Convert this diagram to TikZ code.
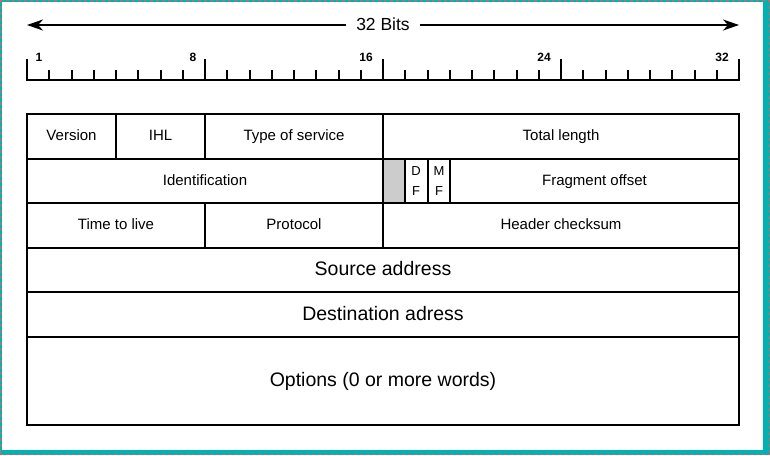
\documentclass[tikz,border=0pt]{standalone}
\usepackage{fontspec}
\setmainfont{Liberation Sans}
\usetikzlibrary{arrows.meta}
\definecolor{teal1}{RGB}{0,178,178}
\definecolor{redd}{RGB}{240,90,90}
\tikzset{
  rule/.style={line width=2pt, line cap=rect},
  tab/.style={line width=2pt, line join=miter},
  small/.style={font=\fontsize{15}{17}\selectfont, inner sep=0pt, anchor=base},
  big/.style={font=\fontsize{19.5}{22}\selectfont, inner sep=0pt, anchor=base},
  num/.style={font=\bfseries\fontsize{12}{13}\selectfont, inner sep=0pt, anchor=base},
  flag/.style={font=\fontsize{13}{16}\selectfont, inner sep=0pt, anchor=base},
}
\begin{document}
\begin{tikzpicture}[x=1pt,y=-1pt]
\useasboundingbox (0,0) rectangle (770,455);
\fill[white] (0,0) rectangle (770,455);
% frame
\fill[teal1] (0,0) rectangle (770,1.5);
\fill[teal1] (0,0) rectangle (1.5,455);
\fill[teal1] (763,0) rectangle (770,455);
\fill[teal1] (0,449.5) rectangle (770,455);
\draw[redd, line width=1pt, dash pattern=on 3pt off 3pt] (0,0.5) -- (770,0.5);
\draw[redd, line width=1pt, dash pattern=on 3pt off 3pt] (0.5,0) -- (0.5,455);
\draw[redd, line width=1pt, dash pattern=on 3pt off 3pt] (769.5,0) -- (769.5,455);
\draw[redd, line width=1pt, dash pattern=on 3pt off 3pt] (0,454.5) -- (770,454.5);
% 32 bits arrow
\node[big, font=\fontsize{17.5}{20}\selectfont] (bits) at (383,30) {32 Bits};
\coordinate (aL) at (27,25);
\coordinate (aR) at (739,25);
\draw[line width=2pt, -{Stealth[length=16pt,width=11pt,inset=5pt]}] (bits.west |- aL) ++(-10,0) -- (aL);
\draw[line width=2pt, -{Stealth[length=16pt,width=11pt,inset=5pt]}] (bits.east |- aR) ++(10,0) -- (aR);
% ruler
\draw[rule] (27,80) -- (739,80);
\foreach \i in {0,...,32}{
  \pgfmathsetmacro{\xx}{27+\i*22.25}
  \draw[line width=2pt] (\xx,80) -- (\xx,70);
}
\foreach \i in {0,8,16,24,32}{
  \pgfmathsetmacro{\xx}{27+\i*22.25}
  \draw[line width=2pt] (\xx,80) -- (\xx,59);
}
\node[num] (n1) at (39,61) {1};
\node[num] (n8) at (193,61) {8};
\node[num] (n16) at (366,61) {16};
\node[num] (n24) at (544,61) {24};
\node[num] (n32) at (722,61) {32};
% table
\fill[black!20] (383,159) rectangle (405,203);
\draw[tab] (27,114) rectangle (739,425);
\draw[tab] (27,159) -- (739,159);
\draw[tab] (27,203) -- (739,203);
\draw[tab] (27,248) -- (739,248);
\draw[tab] (27,292) -- (739,292);
\draw[tab] (27,337) -- (739,337);
\draw[tab] (116,114) -- (116,159);
\draw[tab] (205,114) -- (205,159);
\draw[tab] (383,114) -- (383,248);
\draw[tab] (405,159) -- (405,203);
\draw[tab] (427.5,159) -- (427.5,203);
\draw[tab] (450,159) -- (450,203);
\draw[tab] (205,203) -- (205,248);
% labels
\node[small] (ver) at (71.5,140) {Version};
\node[small] (ihl) at (160.5,140) {IHL};
\node[small] (tos) at (294,140) {Type of service};
\node[small] (tl) at (561,140) {Total length};
\node[small] (id) at (205,185) {Identification};
\node[flag] (d) at (416,175) {D};
\node[flag] (f1) at (416,195) {F};
\node[flag] (m) at (439,175) {M};
\node[flag] (f2) at (439,195) {F};
\node[small] (fo) at (594.5,185) {Fragment offset};
\node[small] (ttl) at (116,229) {Time to live};
\node[small] (pro) at (294,229) {Protocol};
\node[small] (hc) at (561,229) {Header checksum};
\node[big] (src) at (383,275) {Source address};
\node[big] (dst) at (383,320) {Destination adress};
\node[big] (opt) at (383,386) {Options (0 or more words)};
\end{tikzpicture}
\end{document}
